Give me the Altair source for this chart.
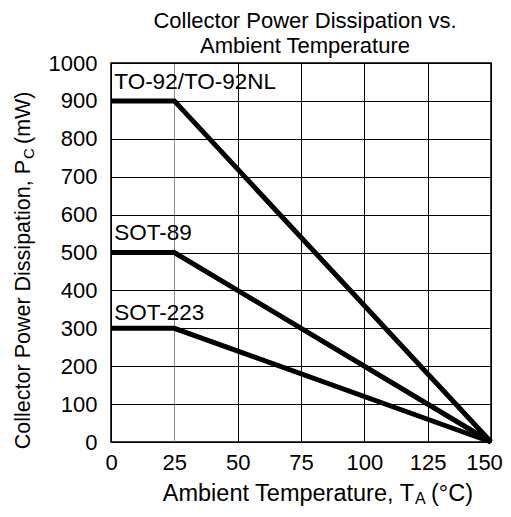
import altair as alt
import pandas as pd

# Data
series = ["TO-92/TO-92NL", "SOT-89", "SOT-223"]
temps = [0, 25, 150]
power_to92 = [900, 900, 0]
power_sot89 = [500, 500, 0]
power_sot223 = [300, 300, 0]

label_x = [1.3, 1.3, 1.3]
label_y = [931, 533, 322]

x_ticks = [0, 25, 50, 75, 100, 125, 150]
y_ticks = [0, 100, 200, 300, 400, 500, 600, 700, 800, 900, 1000]

FONT = "Liberation Sans"

rows = []
for name, vals in zip(series, [power_to92, power_sot89, power_sot223]):
    for i, (t, p) in enumerate(zip(temps, vals)):
        rows.append({"series": name, "t": t, "p": p, "order": i})
df = pd.DataFrame(rows)

lab_df = pd.DataFrame({"series": series, "t": label_x, "p": label_y})

W, H = 380, 379

x_enc = alt.X(
    "t:Q",
    scale=alt.Scale(domain=[0, 150], nice=False, zero=False),
    axis=alt.Axis(
        values=x_ticks,
        format="d",
        title=None,
        grid=True,
        gridColor={"condition": {"test": "datum.value === 25", "value": "#8a8a8a"}, "value": "#000000"},
        gridWidth=1,
        gridOpacity=1,
        ticks=False,
        domain=False,
        labelFont=FONT,
        labelFontSize=22,
        labelColor="black",
        labelPadding=10,
        labelFlush=False,
        labelOverlap=False,
        labelOffset={"condition": {"test": "datum.value === 150", "value": -7}, "value": 0},
    ),
)
y_enc = alt.Y(
    "p:Q",
    scale=alt.Scale(domain=[0, 1000], nice=False),
    axis=alt.Axis(
        values=y_ticks,
        format="d",
        title=None,
        grid=True,
        gridColor="#000000",
        gridWidth=1,
        gridOpacity=1,
        ticks=False,
        domain=False,
        labelFont=FONT,
        labelFontSize=22,
        labelColor="black",
        labelPadding=14,
        labelFlush=False,
        labelOverlap=False,
    ),
)

lines = alt.Chart(df).mark_line(color="black", strokeWidth=5, strokeJoin="miter").encode(
    x=x_enc, y=y_enc, detail="series:N", order="order:Q"
)

labels = alt.Chart(lab_df).mark_text(
    align="left", baseline="alphabetic", font=FONT, fontSize=22.5, color="black"
).encode(x=x_enc, y=y_enc, text="series:N")

# Axis titles with subscripts (pixel positions relative to plot area)
one = pd.DataFrame({"a": [0]})

def txt(text, x, y, size, align, angle=0):
    return alt.Chart(one).mark_text(
        text=text, align=align, baseline="alphabetic", font=FONT,
        fontSize=size, color="black", angle=angle
    ).encode(x=alt.value(x), y=alt.value(y))

xt_y = 438
xt_anchor = 303
x_title = (
    txt("Ambient Temperature, T", xt_anchor, xt_y, 23.5, "right")
    + txt("A", xt_anchor + 1, xt_y + 3, 16, "left")
    + txt("(°C)", xt_anchor + 17, xt_y, 23.5, "left")
)

yt_x = -81
yt_anchor = 97
y_title = (
    txt("Collector Power Dissipation, P", yt_x, yt_anchor, 21.5, "right", 270)
    + txt("C", yt_x + 4, yt_anchor - 1, 15, "left", 270)
    + txt("(mW)", yt_x, yt_anchor - 16, 21.5, "left", 270)
)

chart = (
    alt.layer(lines, labels, x_title, y_title)
    .properties(
        width=W,
        height=H,
        title=alt.TitleParams(
            text=["Collector Power Dissipation vs.", "Ambient  Temperature"],
            font=FONT,
            fontSize=22,
            fontWeight="normal",
            color="black",
            anchor="middle",
            offset=6,
            lineHeight=25,
            dx=4,
            dy=12,
        ),
        autosize=alt.AutoSizeParams(type="none"),
        padding={"left": 103, "top": 55, "right": 12, "bottom": 67},
    )
    .configure_view(stroke="black", strokeWidth=1.5)
)

chart.save("out.html", embed_options={"renderer": "svg", "actions": False})
